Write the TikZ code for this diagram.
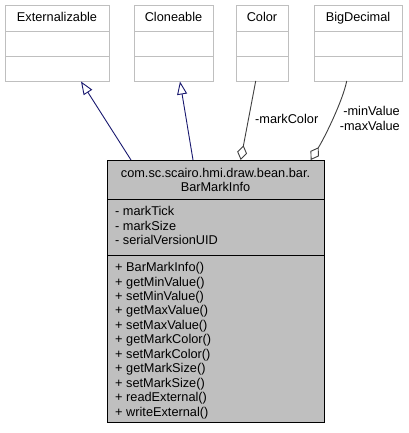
\documentclass[tikz,border=0pt]{standalone}
\usepackage{fontspec}
\setmainfont{Liberation Sans}
\usetikzlibrary{arrows.meta}
\definecolor{boxline}{HTML}{BFBFBF}
\definecolor{mainfill}{HTML}{BFBFBF}
\definecolor{inhcol}{HTML}{191970}
\definecolor{asscol}{HTML}{404040}
\begin{document}
\begin{tikzpicture}[x=1bp,y=-1bp,
  font=\fontsize{12.8}{14.4}\selectfont,
  topbox/.style={draw=boxline, line width=1bp, fill=white, inner sep=0pt, anchor=north west, minimum height=76bp},
  mainbox/.style={draw=black, line width=1bp, fill=mainfill, inner sep=0pt, anchor=north west},
  txt/.style={inner sep=0pt, anchor=base west},
  ctxt/.style={inner sep=0pt, anchor=base},
  inherit/.style={draw=inhcol, line width=0.9bp, -{Triangle[open, length=13bp, width=10bp, line width=0.9bp]}},
  assoc/.style={draw=asscol, line width=0.9bp, {Diamond[fill=white, length=15bp, width=10bp, line width=0.9bp]}-}
]
\fill[white] (0,0) rectangle (408,433);
\useasboundingbox (0,0) rectangle (408,433);

% top classes
\node[topbox, minimum width=104bp] (ext) at (5,5) {};
\draw[boxline, line width=1bp] (5,31.5) -- (109,31.5) (5,56.5) -- (109,56.5);
\node[ctxt] (extname) at (57,21.7) {Externalizable};

\node[topbox, minimum width=79bp] (clo) at (134,5) {};
\draw[boxline, line width=1bp] (134,31.5) -- (213,31.5) (134,56.5) -- (213,56.5);
\node[ctxt] (cloname) at (173.5,21.7) {Cloneable};

\node[topbox, minimum width=52bp] (col) at (236,5) {};
\draw[boxline, line width=1bp] (236,31.5) -- (288,31.5) (236,56.5) -- (288,56.5);
\node[ctxt] (colname) at (262,21.7) {Color};

\node[topbox, minimum width=88bp] (big) at (314,5) {};
\draw[boxline, line width=1bp] (314,31.5) -- (402,31.5) (314,56.5) -- (402,56.5);
\node[ctxt] (bigname) at (358,21.7) {BigDecimal};

% main class
\node[mainbox, minimum width=217bp, minimum height=262bp] (main) at (107,160) {};
\draw[black, line width=1bp] (107,199.5) -- (324,199.5) (107,255) -- (324,255);
\node[ctxt] (t1) at (215.5,177.5) {com.sc.scairo.hmi.draw.bean.bar.};
\node[ctxt] (t2) at (215.5,191.6) {BarMarkInfo};

\foreach \s [count=\i from 0] in {markTick, markSize, serialVersionUID}
  \node[txt] (attr\i) at (115,216+14.4*\i) {- \s};

\foreach \s [count=\i from 0] in {BarMarkInfo(), getMinValue(), setMinValue(), getMaxValue(), setMaxValue(), getMarkColor(), setMarkColor(), getMarkSize(), setMarkSize(), readExternal(), writeExternal()}
  \node[txt] (meth\i) at (115,271.7+14.43*\i) {+ \s};

% connector end points
\coordinate (mExt) at (131,160);
\coordinate (ext-in) at (81,81.5);
\coordinate (mClo) at (193,160);
\coordinate (clo-in) at (180,81.5);
\coordinate (mCol) at (240.7,160);
\coordinate (col-out) at (255.7,81);
\coordinate (mBig) at (310.7,160);
\coordinate (big-out) at (346.7,81);

\draw[inherit] (mExt) -- (ext-in);
\draw[inherit] (mClo) -- (clo-in);
\draw[assoc] (mCol) -- (col-out);
\draw[assoc] (mBig) .. controls (325,137) and (343,100) .. (big-out);

\node[txt] (lcol) at (255,124) {-markColor};
\node[inner sep=0pt, anchor=north east, align=right] (lbig) at (400,106.5) {-minValue\\-maxValue};
\end{tikzpicture}
\end{document}
